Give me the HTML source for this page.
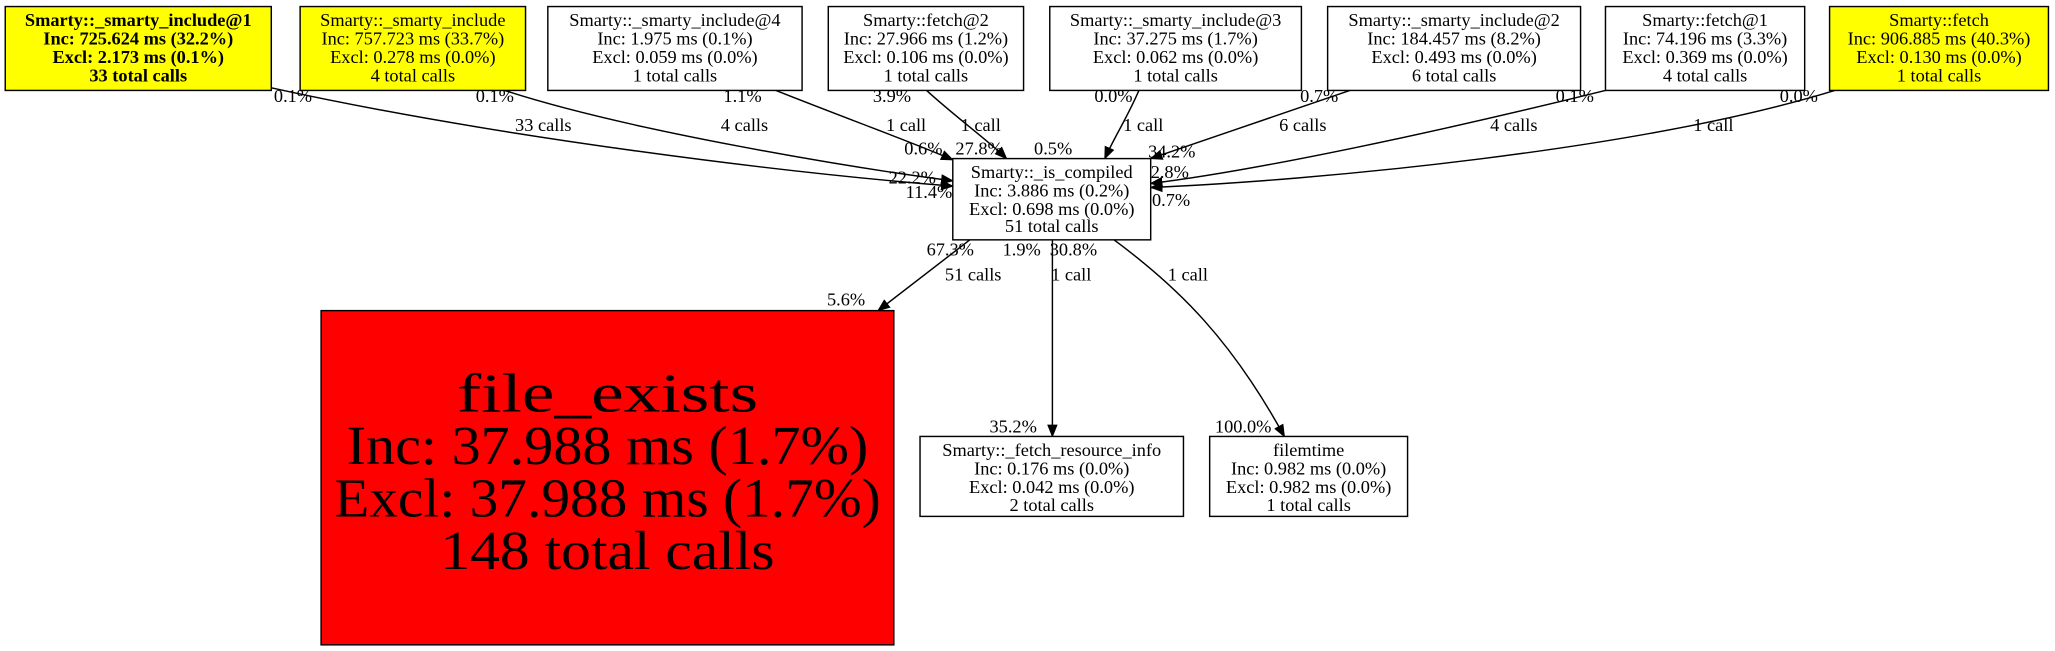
<!DOCTYPE html>
<html><head><meta charset="utf-8"><style>
html,body{margin:0;padding:0;background:#fff;}
svg{display:block;}
text{font-family:"Liberation Serif",serif;}
.n{font-size:14px;text-anchor:middle;}
.e{font-size:14px;}
.b{font-weight:bold;}
</style></head><body>
<svg width="2055" height="651" viewBox="0 0 1568 496.7" preserveAspectRatio="none" xmlns="http://www.w3.org/2000/svg">
<defs><marker id="a" markerWidth="10" markerHeight="8" refX="9" refY="4" orient="auto" markerUnits="userSpaceOnUse"><path d="M0,0 L10,4 L0,8 z" fill="#000"/></marker></defs>
<g fill="none" stroke="#000" stroke-width="1.1" marker-end="url(#a)">
<path d="M207,67 C380,105 600,132 727,142"/>
<path d="M385,69 C480,100 650,128 727,138"/>
<path d="M592,69 C650,92 700,110 727,122"/>
<path d="M707,69 C730,90 755,108 768,121"/>
<path d="M869,69 C860,90 850,105 843,121"/>
<path d="M1030,69 C970,90 910,110 878,121"/>
<path d="M1225,69 C1100,100 960,130 878,140"/>
<path d="M1400,69 C1250,115 1000,138 878,143"/>
<path d="M740,183 L670,237"/>
<path d="M803,183 L803,333"/>
<path d="M850,183 C900,220 940,260 980,333"/>
</g>
<g stroke="#000" stroke-width="1.1">
<rect x="4" y="5" width="203" height="64" fill="#ff0"/>
<rect x="229" y="5" width="172" height="64" fill="#ff0"/>
<rect x="418" y="5" width="194" height="64" fill="#fff"/>
<rect x="632" y="5" width="149" height="64" fill="#fff"/>
<rect x="801" y="5" width="192" height="64" fill="#fff"/>
<rect x="1013" y="5" width="193" height="64" fill="#fff"/>
<rect x="1225" y="5" width="152" height="64" fill="#fff"/>
<rect x="1396" y="5" width="167" height="64" fill="#ff0"/>
<rect x="727" y="121" width="151" height="62" fill="#fff"/>
<rect x="245" y="237" width="437" height="255" fill="#f00"/>
<rect x="702" y="333" width="201" height="61" fill="#fff"/>
<rect x="923" y="333" width="151" height="61" fill="#fff"/>
</g>
<g class="n">
<text x="105.5" y="20" class="b">Smarty::_smarty_include@1</text><text x="105.5" y="34" class="b">Inc: 725.624 ms (32.2%)</text><text x="105.5" y="48" class="b">Excl: 2.173 ms (0.1%)</text><text x="105.5" y="62" class="b">33 total calls</text>
<text x="315" y="20">Smarty::_smarty_include</text><text x="315" y="34">Inc: 757.723 ms (33.7%)</text><text x="315" y="48">Excl: 0.278 ms (0.0%)</text><text x="315" y="62">4 total calls</text>
<text x="515" y="20">Smarty::_smarty_include@4</text><text x="515" y="34">Inc: 1.975 ms (0.1%)</text><text x="515" y="48">Excl: 0.059 ms (0.0%)</text><text x="515" y="62">1 total calls</text>
<text x="706.5" y="20">Smarty::fetch@2</text><text x="706.5" y="34">Inc: 27.966 ms (1.2%)</text><text x="706.5" y="48">Excl: 0.106 ms (0.0%)</text><text x="706.5" y="62">1 total calls</text>
<text x="897" y="20">Smarty::_smarty_include@3</text><text x="897" y="34">Inc: 37.275 ms (1.7%)</text><text x="897" y="48">Excl: 0.062 ms (0.0%)</text><text x="897" y="62">1 total calls</text>
<text x="1109.5" y="20">Smarty::_smarty_include@2</text><text x="1109.5" y="34">Inc: 184.457 ms (8.2%)</text><text x="1109.5" y="48">Excl: 0.493 ms (0.0%)</text><text x="1109.5" y="62">6 total calls</text>
<text x="1301" y="20">Smarty::fetch@1</text><text x="1301" y="34">Inc: 74.196 ms (3.3%)</text><text x="1301" y="48">Excl: 0.369 ms (0.0%)</text><text x="1301" y="62">4 total calls</text>
<text x="1479.5" y="20">Smarty::fetch</text><text x="1479.5" y="34">Inc: 906.885 ms (40.3%)</text><text x="1479.5" y="48">Excl: 0.130 ms (0.0%)</text><text x="1479.5" y="62">1 total calls</text>
<text x="802.5" y="136">Smarty::_is_compiled</text><text x="802.5" y="150">Inc: 3.886 ms (0.2%)</text><text x="802.5" y="164">Excl: 0.698 ms (0.0%)</text><text x="802.5" y="177">51 total calls</text>
<text x="802.5" y="348">Smarty::_fetch_resource_info</text><text x="802.5" y="362">Inc: 0.176 ms (0.0%)</text><text x="802.5" y="376">Excl: 0.042 ms (0.0%)</text><text x="802.5" y="390">2 total calls</text>
<text x="998.5" y="348">filemtime</text><text x="998.5" y="362">Inc: 0.982 ms (0.0%)</text><text x="998.5" y="376">Excl: 0.982 ms (0.0%)</text><text x="998.5" y="390">1 total calls</text>
<g style="font-size:42px"><text x="463.5" y="314" textLength="230" lengthAdjust="spacingAndGlyphs">file_exists</text><text x="463.5" y="354" textLength="398" lengthAdjust="spacingAndGlyphs">Inc: 37.988 ms (1.7%)</text><text x="463.5" y="394" textLength="417" lengthAdjust="spacingAndGlyphs">Excl: 37.988 ms (1.7%)</text><text x="463.5" y="434" textLength="255" lengthAdjust="spacingAndGlyphs">148 total calls</text></g>
</g>
<g class="e">
<text x="209" y="78">0.1%</text><text x="393" y="100">33 calls</text><text x="678" y="140">22.2%</text><text x="691" y="151">11.4%</text>
<text x="363" y="78">0.1%</text><text x="550" y="100">4 calls</text>
<text x="552" y="78">1.1%</text><text x="676" y="100">1 call</text><text x="690" y="118">0.6%</text>
<text x="666" y="78">3.9%</text><text x="733" y="100">1 call</text><text x="729" y="118">27.8%</text>
<text x="835" y="78">0.0%</text><text x="857" y="100">1 call</text><text x="789" y="118">0.5%</text>
<text x="992" y="78">0.7%</text><text x="976" y="100">6 calls</text><text x="876" y="120">34.2%</text>
<text x="1187" y="78">0.1%</text><text x="1137" y="100">4 calls</text><text x="878" y="136">2.8%</text>
<text x="1358" y="78">0.0%</text><text x="1292" y="100">1 call</text><text x="879" y="157">0.7%</text>
<text x="707" y="195">67.3%</text><text x="765" y="195">1.9%</text><text x="801" y="195">30.8%</text>
<text x="721" y="214">51 calls</text><text x="802" y="214">1 call</text><text x="891" y="214">1 call</text>
<text x="631" y="233">5.6%</text><text x="755" y="330">35.2%</text><text x="927" y="330">100.0%</text>
</g>
</svg>
</body></html>
